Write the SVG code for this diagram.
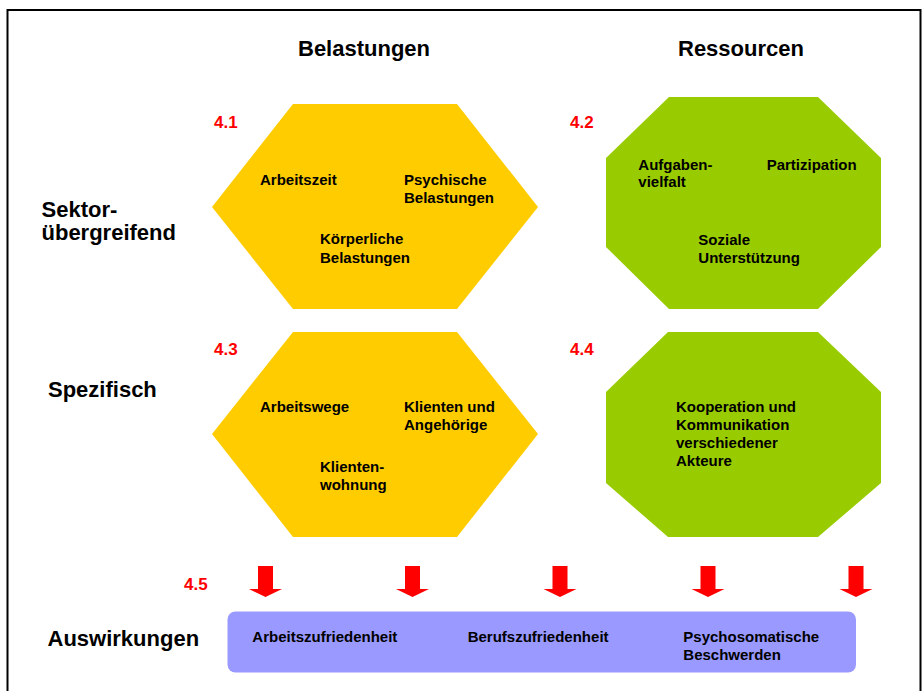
<svg xmlns="http://www.w3.org/2000/svg" width="922" height="691" viewBox="0 0 922 691">
  <defs>
    <style>
      text { font-family: "Liberation Sans", Arial, sans-serif; font-weight: bold; fill: #000; }
      .head { font-size: 22px; }
      .item { font-size: 15px; }
      .num { font-size: 17px; fill: #FF0000; }
      .hex { fill: #FFCC00; }
      .oct { fill: #99CC00; }
      .bar { fill: #9999FF; }
      .arrow { fill: #FF0000; }
    </style>
    <polygon id="arrowShape" points="-7.5,566 7.5,566 7.5,589 16.5,589 0,597 -16.5,589 -7.5,589"/>
  </defs>

  <rect x="0" y="0" width="922" height="691" fill="#FFFFFF"/>
  <!-- frame -->
  <rect x="7.5" y="10" width="913" height="690" fill="none" stroke="#000" stroke-width="2"/>

  <!-- column and row headings -->
  <g id="headings">
    <text class="head" x="298" y="56">Belastungen</text>
    <text class="head" x="678" y="56">Ressourcen</text>
    <text class="head" x="41.5" y="216.5">Sektor-</text>
    <text class="head" x="41.5" y="240">übergreifend</text>
    <text class="head" x="48" y="396.5">Spezifisch</text>
    <text class="head" x="47.5" y="645.5">Auswirkungen</text>
  </g>

  <!-- 4.1 sector-wide strains -->
  <g id="n41">
    <polygon class="hex" points="212,207 293,104 457,104 538,207 457,309 293,309"/>
    <text class="num" x="214" y="128">4.1</text>
    <text class="item" x="260" y="184.5">Arbeitszeit</text>
    <text class="item" x="404" y="184.5">Psychische</text>
    <text class="item" x="404" y="202.7">Belastungen</text>
    <text class="item" x="320" y="244.3">Körperliche</text>
    <text class="item" x="320" y="262.7">Belastungen</text>
  </g>

  <!-- 4.2 sector-wide resources -->
  <g id="n42">
    <polygon class="oct" points="669,97 818,97 881,158 881,247 818,309 669,309 606,247 606,158"/>
    <text class="num" x="570" y="128">4.2</text>
    <text class="item" x="638.3" y="170">Aufgaben-</text>
    <text class="item" x="638.3" y="187.3">vielfalt</text>
    <text class="item" x="766.7" y="170">Partizipation</text>
    <text class="item" x="698.3" y="245">Soziale</text>
    <text class="item" x="698.3" y="263.3">Unterstützung</text>
  </g>

  <!-- 4.3 specific strains -->
  <g id="n43">
    <polygon class="hex" points="212,434 293,332 457,332 538,434 457,537 293,537"/>
    <text class="num" x="214" y="355">4.3</text>
    <text class="item" x="260" y="411.7">Arbeitswege</text>
    <text class="item" x="404" y="411.7">Klienten und</text>
    <text class="item" x="404" y="430">Angehörige</text>
    <text class="item" x="320" y="471.7">Klienten-</text>
    <text class="item" x="320" y="490">wohnung</text>
  </g>

  <!-- 4.4 specific resources -->
  <g id="n44">
    <polygon class="oct" points="668,332 818,332 881,392 881,483 818,537 668,537 606,483 606,392"/>
    <text class="num" x="570" y="355">4.4</text>
    <text class="item" x="676" y="411.7">Kooperation und</text>
    <text class="item" x="676" y="430">Kommunikation</text>
    <text class="item" x="676" y="448.3">verschiedener</text>
    <text class="item" x="676" y="465.7">Akteure</text>
  </g>

  <!-- arrows down to the effects bar -->
  <g id="connectors" class="arrow">
    <use href="#arrowShape" x="265.5"/>
    <use href="#arrowShape" x="412.5"/>
    <use href="#arrowShape" x="560"/>
    <use href="#arrowShape" x="708"/>
    <use href="#arrowShape" x="856"/>
  </g>

  <!-- 4.5 effects -->
  <g id="n45">
    <text class="num" x="184" y="590">4.5</text>
    <rect class="bar" x="227.5" y="611.5" width="628.5" height="61" rx="8" ry="8"/>
    <text class="item" x="252.3" y="641.7">Arbeitszufriedenheit</text>
    <text class="item" x="467.7" y="641.7">Berufszufriedenheit</text>
    <text class="item" x="683.3" y="641.7">Psychosomatische</text>
    <text class="item" x="683.3" y="660">Beschwerden</text>
  </g>
</svg>
